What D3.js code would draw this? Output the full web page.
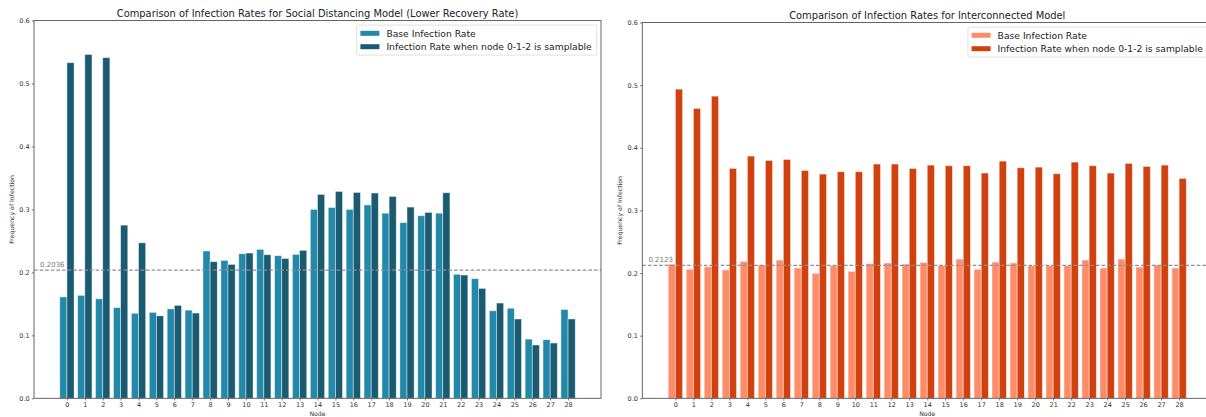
<!DOCTYPE html>
<html><head><meta charset="utf-8">
<script src="https://cdn.jsdelivr.net/npm/d3@7/dist/d3.min.js"></script>
<style>
html,body{margin:0;padding:0;background:#fff;overflow:hidden}
svg{display:block}
text{font-family:"DejaVu Sans",sans-serif}
</style>
</head><body>
<svg id="c" width="1206" height="417"></svg>
<script>
// ---------- data ----------
const nodes = [0,1,2,3,4,5,6,7,8,9,10,11,12,13,14,15,16,17,18,19,20,21,22,23,24,25,26,27,28];
const yTicks = [0.0,0.1,0.2,0.3,0.4,0.5,0.6];
const seriesNames = ["Base Infection Rate","Infection Rate when node 0-1-2 is samplable"];

const sdTitle = "Comparison of Infection Rates for Social Distancing Model (Lower Recovery Rate)";
const sdBase = [0.161,0.1635,0.158,0.144,0.135,0.1365,0.142,0.140,0.234,0.219,0.2296,0.2365,0.2265,0.2286,
  0.300,0.303,0.300,0.307,0.294,0.279,0.290,0.294,0.197,0.190,0.139,0.143,0.094,0.093,0.141];
const sdSampled = [0.533,0.546,0.541,0.275,0.247,0.131,0.1476,0.1354,0.217,0.2127,0.2307,0.228,0.222,0.235,
  0.3238,0.3286,0.327,0.326,0.3206,0.3037,0.2952,0.3265,0.1958,0.1746,0.1513,0.126,0.0847,0.0878,0.126];
const sdMean = 0.2036;

const icTitle = "Comparison of Infection Rates for Interconnected Model";
const icBase = [0.214,0.206,0.210,0.205,0.2186,0.213,0.2207,0.208,0.1995,0.2117,0.2027,0.2149,0.216,0.2143,
  0.217,0.2122,0.2223,0.206,0.2175,0.216,0.2117,0.2117,0.2117,0.2207,0.208,0.2223,0.2095,0.2127,0.208];
const icSampled = [0.4936,0.4628,0.4824,0.367,0.3867,0.3798,0.3814,0.3638,0.358,0.3617,0.3617,0.374,0.374,0.367,
  0.3723,0.3713,0.3713,0.3596,0.3787,0.368,0.3691,0.3585,0.3771,0.3713,0.3596,0.375,0.3702,0.3723,0.351];
const icMean = 0.2123;

// ---------- drawing ----------
const svg = d3.select("#c");

function drawPanel(o) {
  const barW = 0.4;
  const lo = d3.min(nodes) - barW, hi = d3.max(nodes) + barW, m = (hi - lo) * 0.05;
  const x = d3.scaleLinear().domain([lo - m, hi + m]).range([o.left, o.right]);
  const y = d3.scaleLinear().domain([0, 0.6]).range([o.bottom, o.top]);
  const g = svg.append("g");

  // bars
  g.append("g").selectAll("rect").data(o.base).join("rect")
    .attr("x", (d, i) => x(nodes[i] - barW))
    .attr("y", d => y(d))
    .attr("width", (d, i) => x(nodes[i]) - x(nodes[i] - barW))
    .attr("height", d => y(0) - y(d))
    .attr("fill", o.c1).attr("stroke", "#fff").attr("stroke-opacity", 0.55).attr("stroke-width", 0.8);
  g.append("g").selectAll("rect").data(o.sampled).join("rect")
    .attr("x", (d, i) => x(nodes[i]))
    .attr("y", d => y(d))
    .attr("width", (d, i) => x(nodes[i] + barW) - x(nodes[i]))
    .attr("height", d => y(0) - y(d))
    .attr("fill", o.c2).attr("stroke", "#fff").attr("stroke-opacity", 0.55).attr("stroke-width", 0.8);

  // mean line
  g.append("line")
    .attr("x1", o.left).attr("x2", o.right)
    .attr("y1", y(o.mean)).attr("y2", y(o.mean))
    .attr("stroke", "#8f8f8f").attr("stroke-width", 1.1).attr("stroke-dasharray", "3.6,2");
  g.append("text")
    .attr("x", x(-1.5)).attr("y", y(o.mean) - 3.3)
    .attr("font-size", 7).attr("fill", "#7a7a7a")
    .text(o.mean.toFixed(4));

  // axes
  const ax = g.append("g").attr("transform", `translate(${o.left},0)`)
    .call(d3.axisLeft(y).tickValues(yTicks).tickFormat(d3.format(".1f")).tickSize(2.2).tickSizeOuter(0).tickPadding(2.2));
  const bx = g.append("g").attr("transform", `translate(0,${o.bottom})`)
    .call(d3.axisBottom(x).tickValues(nodes).tickFormat(d => d).tickSize(2.2).tickSizeOuter(0).tickPadding(2.2));
  [ax, bx].forEach(a => {
    a.select(".domain").remove();
    a.selectAll(".tick line").attr("stroke", "#444").attr("stroke-width", 0.7);
    a.selectAll(".tick text").attr("font-family", "DejaVu Sans").attr("font-size", 6.5).attr("fill", "#333");
  });

  // spines
  g.append("rect")
    .attr("x", o.left).attr("y", o.top)
    .attr("width", o.right - o.left).attr("height", o.bottom - o.top)
    .attr("fill", "none").attr("stroke", "#555").attr("stroke-width", 0.9);

  // title & labels
  const cx = (o.left + o.right) / 2;
  g.append("text").attr("x", cx).attr("y", o.top - 4)
    .attr("text-anchor", "middle").attr("font-size", 9.9).attr("fill", "#222").text(o.title);
  g.append("text").attr("x", cx).attr("y", o.bottom + 18)
    .attr("text-anchor", "middle").attr("font-size", 6.2).attr("fill", "#333").text("Node");
  g.append("text")
    .attr("transform", `translate(${o.left - 20.5},${(o.top + o.bottom) / 2}) rotate(-90)`)
    .attr("text-anchor", "middle").attr("font-size", 6.2).attr("fill", "#333")
    .text("Frequency of Infection");

  // legend
  const lw = 240, lh = 30;
  const lx = o.right - 4.3 - lw, ly = o.top + 4.6;
  const lg = g.append("g").attr("transform", `translate(${lx},${ly})`);
  lg.append("rect").attr("width", lw).attr("height", lh).attr("rx", 2)
    .attr("fill", "#fff").attr("fill-opacity", 0.85).attr("stroke", "#d9d9d9").attr("stroke-width", 0.8);
  seriesNames.forEach((name, i) => {
    lg.append("rect").attr("x", 3.7).attr("y", 5.7 + i * 13.4).attr("width", 19).attr("height", 5)
      .attr("fill", i === 0 ? o.c1 : o.c2);
    lg.append("text").attr("x", 29.7).attr("y", 11.6 + i * 13.4)
      .attr("font-size", 9.2).attr("fill", "#222").text(name);
  });
}

drawPanel({left: 34, right: 601, top: 20.5, bottom: 398.3,
  base: sdBase, sampled: sdSampled, mean: sdMean, title: sdTitle,
  c1: "#2389ab", c2: "#1a5b72"});
drawPanel({left: 642.3, right: 1212.2, top: 22.5, bottom: 398.3,
  base: icBase, sampled: icSampled, mean: icMean, title: icTitle,
  c1: "#ff8c69", c2: "#d1400f"});
</script>
</body></html>
